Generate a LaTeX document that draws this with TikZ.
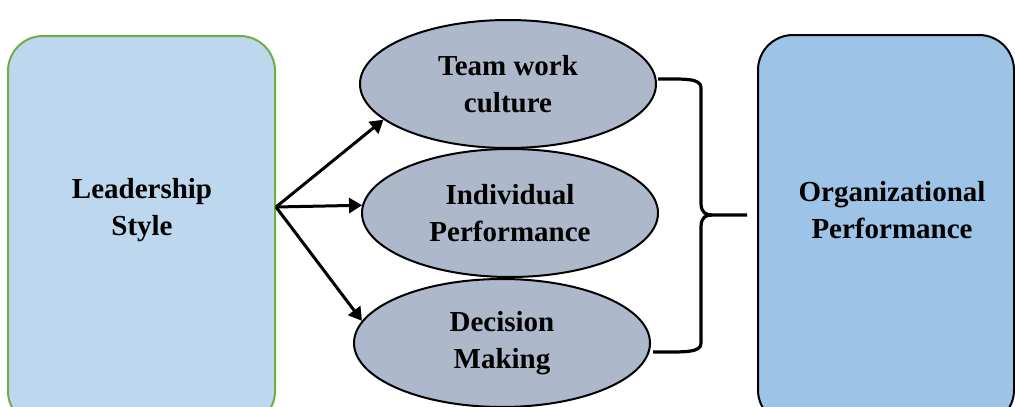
\documentclass[tikz,border=0pt]{standalone}
\usepackage{fontspec}
\setmainfont{Liberation Serif}
\usetikzlibrary{shapes.geometric,arrows.meta}
\definecolor{lsfill}{HTML}{BDD7EE}
\definecolor{lsgreen}{HTML}{70AD47}
\definecolor{medfill}{HTML}{ADB9CA}
\definecolor{opfill}{HTML}{9DC3E6}

\begin{document}
\begin{tikzpicture}[x=1pt,y=-1pt,
    bigbox/.style = {draw, rounded corners=35pt, line width=2pt, minimum width=267pt, minimum height=390pt, inner sep=0pt},
    med/.style = {draw, ellipse, fill=medfill, line width=2pt, minimum width=296pt, minimum height=128pt, inner sep=0pt, align=center, font=\fontsize{29}{37}\selectfont\bfseries},
    lbl/.style = {align=center, font=\fontsize{29}{37}\selectfont\bfseries},
    arr/.style = {-{Triangle[length=13pt,width=15pt]}, line width=3pt},
    curly/.style = {line width=3.2pt, line join=miter}]
        \clip (0,0) rectangle (1015,407);
        % outer boxes
        \node[bigbox, draw=lsgreen, fill=lsfill] (lead) at (141.5,231) {};
        \node[bigbox, fill=opfill, minimum width=256pt] (org) at (886,230) {};
        \node[lbl] (leadtxt) at (142,210) {Leadership\\Style};
        \node[lbl] (orgtxt) at (892,210) {Organizational\\Performance};
        % mediating factors
        \node[med] (team) at (508,84) {Team work\\culture};
        \node[med] (indiv) at (510,213) {Individual\\Performance};
        \node[med] (decision) at (502,343) {Decision\\Making};
        % arrows out of the left box
        \coordinate (fork) at (276,207);
        \draw[arr] (fork) -- (team.196);
        \draw[arr] (fork) -- (indiv.177.6);
        \draw[arr] (fork) -- (decision.171);
        % brace into the right box
        \coordinate (tip) at (747,215);
        \draw[curly] ([shift={(1,-5)}]team.east) .. controls (685,79) and (701,78) .. (701,88) -- (701,203) .. controls (701,213) and (706,215) .. (712,215) -- (tip);
        \draw[curly] ([shift={(2,9)}]decision.east) .. controls (685,352) and (701,353) .. (701,343) -- (701,227) .. controls (701,217) and (706,215) .. (712,215);
\end{tikzpicture}
\end{document}
